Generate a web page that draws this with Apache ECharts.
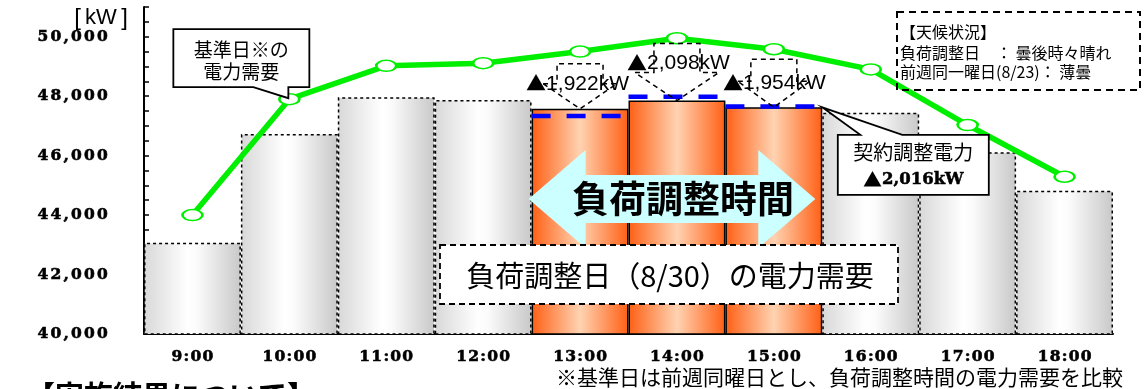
<!DOCTYPE html>
<html>
<head>
<meta charset="utf-8">
<script src="https://cdn.jsdelivr.net/npm/echarts@6/dist/echarts.min.js"></script>
<style>
  html, body { margin: 0; padding: 0; background: #ffffff; }
  #chart { width: 1146px; height: 389px; }
</style>
</head>
<body>
<div id="chart"></div>
<script>
// 時間帯
const hours = ['9:00', '10:00', '11:00', '12:00', '13:00', '14:00', '15:00', '16:00', '17:00', '18:00'];
// 基準日（前週同曜日）の電力需要 [kW]
const baseDemand = [44000, 47900, 49020, 49110, 49500, 49950, 49580, 48900, 47030, 45290];
// 負荷調整日(8/30)の電力需要 [kW]（負荷調整時間は基準日との差から求める）
const dayDemand = [43070, 46730, 47960, 47870, null, null, null, 47440, 46110, 44820];
// 負荷調整時間と削減量 [kW]
const adjustHours = ['13:00', '14:00', '15:00'];
const reductions = [1922, 2098, 1954];
// 契約調整電力ライン [kW]
const contractLevel = [47330, 47980, 47650];
const contractReduction = 2016;
// 縦軸
const yMin = 40000, yMax = 51000, yTickStep = 500, yLabelStep = 2000;

adjustHours.forEach((h, k) => {
  const i = hours.indexOf(h);
  dayDemand[i] = baseDemand[i] - reductions[k];
});

const fmt = n => n.toLocaleString('en-US');
const JP = "'Noto Sans CJK JP', sans-serif";
const SERIF = "'DejaVu Serif', serif";
const SANS = "'Liberation Sans', sans-serif";

// 文字ごとに幅を固定した字間の広い数字ラベル
function spaced(str) {
  return str.split('').map(ch => (/[0-9]/.test(ch) ? '{d|' + ch + '}' : '{p|' + ch + '}')).join('');
}
function spacedRich(dw, pw, size) {
  const base = {
    fontFamily: SERIF, fontWeight: 'bold', fontSize: size, color: '#000', align: 'center', lineHeight: size + 2,
    textBorderColor: '#000', textBorderWidth: 0.6
  };
  return { d: Object.assign({ width: dw }, base), p: Object.assign({ width: pw }, base) };
}

const grayFill = {
  type: 'linear', x: 0, y: 0, x2: 1, y2: 0,
  colorStops: [
    { offset: 0, color: '#d8d8d8' },
    { offset: 0.45, color: '#ffffff' },
    { offset: 0.55, color: '#fbfbfb' },
    { offset: 1, color: '#c8c8c8' }
  ]
};
const orangeFill = {
  type: 'linear', x: 0, y: 0, x2: 1, y2: 0,
  colorStops: [
    { offset: 0, color: '#ff5f14' },
    { offset: 0.5, color: '#ffd3b2' },
    { offset: 1, color: '#ff5f14' }
  ]
};

const barData = hours.map((h, i) => {
  const adjusted = adjustHours.indexOf(h) >= 0;
  return {
    value: dayDemand[i],
    itemStyle: adjusted
      ? { color: orangeFill, borderColor: '#000', borderWidth: 1.5, borderType: 'solid' }
      : { color: grayFill, borderColor: '#000', borderWidth: 1.5, borderType: [3, 3] }
  };
});

const contractData = adjustHours.map((h, k) => [hours.indexOf(h), contractLevel[k]]);

const chart = echarts.init(document.getElementById('chart'), null, { renderer: 'canvas' });

chart.setOption({
  animation: false,
  backgroundColor: '#ffffff',
  grid: { left: 144, right: 33, top: 7, bottom: 55 },
  xAxis: {
    type: 'category',
    data: hours,
    boundaryGap: true,
    axisLine: { lineStyle: { color: '#000', width: 2 } },
    axisTick: { show: false },
    splitLine: { show: false },
    axisLabel: { interval: 0, margin: 14, formatter: v => spaced(v), rich: spacedRich(12, 7, 15.5) }
  },
  yAxis: {
    type: 'value',
    min: yMin, max: yMax, interval: yTickStep,
    axisLine: { show: true, lineStyle: { color: '#000', width: 2 } },
    axisTick: { show: true, inside: true, length: 5, lineStyle: { color: '#000', width: 1.5 } },
    splitLine: { show: false },
    axisLabel: {
      margin: 35,
      formatter: v => (v % yLabelStep === 0 ? spaced(fmt(v)) : ''),
      rich: spacedRich(13, 7.5, 15.5)
    }
  },
  series: [
    {
      type: 'bar',
      data: barData,
      barWidth: '100%',
      barCategoryGap: 0,
      z: 2
    },
    {
      type: 'custom',
      data: contractData,
      encode: { x: 0, y: 1 },
      z: 3,
      renderItem: (params, api) => {
        const p = api.coord([api.value(0), api.value(1)]);
        const w = api.size([1, 0])[0];
        return {
          type: 'line',
          shape: { x1: p[0] - w / 2, y1: p[1], x2: p[0] + w / 2, y2: p[1] },
          style: { stroke: '#0000ff', lineWidth: 4.5, lineDash: [19, 16], fill: null }
        };
      }
    },
    {
      type: 'line',
      data: baseDemand,
      z: 4,
      lineStyle: { color: '#00ee00', width: 5.5 },
      symbol: 'path://M0,1A1,1,0,1,1,2,1A1,1,0,1,1,0,1Z',
      symbolSize: [20, 11],
      showAllSymbol: true,
      itemStyle: { color: '#ffffff', borderColor: '#00ee00', borderWidth: 2 }
    }
  ]
});

// 注記・吹き出し
const toPx = (cat, v) => chart.convertToPixel({ gridIndex: 0 }, [cat, v]);
const bandW = toPx(hours[1], yMin)[0] - toPx(hours[0], yMin)[0];
const g = [];

// 単位
g.push({
  type: 'text', x: 129, y: 18, z: 100,
  style: {
    text: '{b|[}{u|kW}{b|]}', align: 'right', verticalAlign: 'middle',
    rich: {
      b: { fontFamily: SANS, fontSize: 24, width: 9, align: 'center', fill: '#000' },
      u: { fontFamily: SANS, fontSize: 22, width: 38, align: 'center', fill: '#000' }
    }
  }
});

// 基準日の電力需要（吹き出し）
{
  const P = toPx('10:00', baseDemand[1]);
  const tip = [P[0] - 1, P[1] - 1];
  const L = P[0] - 116, R = P[0] + 20, T = P[1] - 70, B = P[1] - 12;
  g.push({
    type: 'polygon', z: 100,
    shape: { points: [[L, T], [R, T], [R, B], [P[0] - 1, B], tip, [P[0] - 36, B], [L, B]] },
    style: { fill: '#ffffff', stroke: '#000', lineWidth: 1.8 }
  });
  g.push({ type: 'text', x: (L + R) / 2, y: T + 21, z: 101,
    style: { text: '基準日※の', fontFamily: JP, fontSize: 19, fill: '#000', align: 'center', verticalAlign: 'middle' } });
  g.push({ type: 'text', x: (L + R) / 2, y: T + 43, z: 101,
    style: { text: '電力需要', fontFamily: JP, fontSize: 19, fill: '#000', align: 'center', verticalAlign: 'middle' } });
}

// 天候状況
g.push({
  type: 'rect', z: 100,
  shape: { x: 897, y: 12, width: 243, height: 78 },
  style: { fill: 'rgba(255,255,255,0)', stroke: '#000', lineWidth: 2, lineDash: [7, 5] }
});
[['【天候状況】', 32], ['負荷調整日　： 曇後時々晴れ', 53], ['前週同一曜日(8/23)： 薄曇', 72]].forEach(([t, y]) => {
  g.push({ type: 'text', x: 900, y: y, z: 101,
    style: { text: t, fontFamily: JP, fontSize: 16, fill: '#000', align: 'left', verticalAlign: 'middle' } });
});

// 削減量（破線の吹き出し）
const calloutLayout = [
  { top: 45, side: 25, wing: 37, dx: -2.5, dy: 25 },
  { top: 57, side: 28, wing: 42, dx: 1.5, dy: 37 },
  { top: 48, side: 26, wing: 36, dx: 0.5, dy: 24 }
];
const triRich = {
  t: { fontFamily: JP, fontSize: 20, fill: '#000' },
  n: { fontFamily: SANS, fontSize: 21, fill: '#000' }
};
adjustHours.forEach((h, k) => {
  const i = hours.indexOf(h);
  const P = toPx(h, dayDemand[i]);
  const c = calloutLayout[k];
  const x = P[0], y = P[1];
  g.push({
    type: 'polyline', z: 90,
    shape: { points: [
      [x - c.wing, y - c.side], [x - 23, y - c.side], [x - 23, y - c.top], [x + 23, y - c.top],
      [x + 23, y - c.side], [x + c.wing, y - c.side], [x, y], [x - c.wing, y - c.side]
    ] },
    style: { stroke: '#000', lineWidth: 1.5, lineDash: [5, 4], fill: null }
  });
  g.push({ type: 'text', x: x + c.dx, y: y - c.dy, z: 95,
    style: { text: '{t|▲}{n|' + fmt(reductions[k]) + 'kW}', rich: triRich, align: 'center', verticalAlign: 'middle' } });
});

// 契約調整電力
{
  const last = adjustHours[adjustHours.length - 1];
  const P = toPx(last, dayDemand[hours.indexOf(last)]);
  const tip = [P[0] + bandW / 2, P[1]];
  const L = tip[0] + 15.5, R = tip[0] + 166.5, T = tip[1] + 27.5, B = tip[1] + 87.5;
  g.push({
    type: 'polygon', z: 100,
    shape: { points: [[L, T], [tip[0] + 38, T], tip, [tip[0] + 80, T], [R, T], [R, B], [L, B]] },
    style: { fill: '#ffffff', stroke: '#000', lineWidth: 1.8 }
  });
  g.push({ type: 'text', x: (L + R) / 2, y: T + 18, z: 101,
    style: { text: '契約調整電力', fontFamily: JP, fontSize: 20, fill: '#000', align: 'center', verticalAlign: 'middle' } });
  g.push({ type: 'text', x: (L + R) / 2, y: T + 45, z: 101,
    style: {
      text: '{a|▲}{b|' + fmt(contractReduction) + 'kW}', align: 'center', verticalAlign: 'middle',
      rich: {
        a: { fontFamily: JP, fontSize: 19, fill: '#000' },
        b: { fontFamily: SERIF, fontWeight: 'bold', fontSize: 16.5, fill: '#000', stroke: '#000', lineWidth: 0.5 }
      }
    } });
}

// 負荷調整時間（両矢印）
{
  const xl = toPx(adjustHours[0], yMin)[0] - bandW / 2 - 3;
  const xr = toPx(adjustHours[adjustHours.length - 1], yMin)[0] + bandW / 2 - 7;
  const cy = 199, hw = 49, bw = 24, hl = 57;
  g.push({
    type: 'polygon', z: 80,
    shape: { points: [
      [xl, cy], [xl + hl, cy - hw], [xl + hl, cy - bw], [xr - hl, cy - bw], [xr - hl, cy - hw],
      [xr, cy], [xr - hl, cy + hw], [xr - hl, cy + bw], [xl + hl, cy + bw], [xl + hl, cy + hw]
    ] },
    style: { fill: '#ccffff', stroke: null }
  });
  g.push({ type: 'text', x: (xl + xr) / 2 + 11, y: cy, z: 81,
    style: { text: '負荷調整時間', fontFamily: JP, fontWeight: 'bold', fontSize: 37, fill: '#000', align: 'center', verticalAlign: 'middle' } });
}

// 負荷調整日の電力需要（破線枠）
g.push({
  type: 'rect', z: 102,
  shape: { x: 440, y: 245, width: 458, height: 59 },
  style: { fill: '#ffffff', stroke: '#000', lineWidth: 1.8, lineDash: [6, 4] }
});
g.push({ type: 'text', x: 670, y: 276, z: 103,
  style: { text: '負荷調整日（8/30）の電力需要', fontFamily: JP, fontSize: 29, fill: '#000', align: 'center', verticalAlign: 'middle' } });

// 脚注
g.push({ type: 'text', x: 556, y: 377, z: 100,
  style: { text: '※基準日は前週同曜日とし、負荷調整時間の電力需要を比較', fontFamily: JP, fontSize: 21, fill: '#000', align: 'left', verticalAlign: 'middle' } });

// 次の見出し
g.push({ type: 'text', x: 26, y: 396, z: 100,
  style: { text: '【実施結果について】', fontFamily: JP, fontWeight: 'bold', fontSize: 29, fill: '#000', align: 'left', verticalAlign: 'middle' } });

chart.setOption({ graphic: g });
</script>
</body>
</html>
